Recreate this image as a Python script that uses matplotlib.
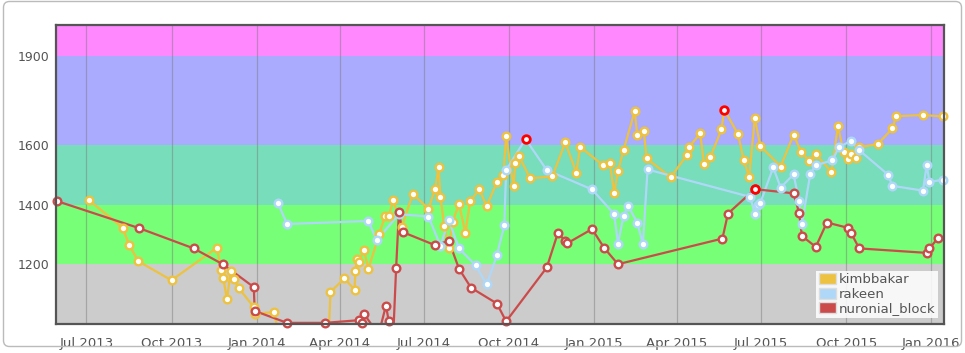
import numpy as np
import pandas as pd
import matplotlib
matplotlib.use("Agg")
import matplotlib.pyplot as plt
import matplotlib.dates as mdates
from matplotlib.patches import Patch, FancyBboxPatch
from matplotlib.transforms import IdentityTransform

# rating history
kimbbakar_dates = [
    '2013-07-04', '2013-08-09', '2013-08-16', '2013-08-26', '2013-10-01', '2013-11-19',
    '2013-11-24', '2013-11-26', '2013-11-30', '2013-12-04', '2013-12-08', '2013-12-13',
    '2013-12-29', '2013-12-30', '2014-01-20', '2014-01-26', '2014-03-20', '2014-03-22',
    '2014-04-06', '2014-04-17', '2014-04-18', '2014-04-20', '2014-04-22', '2014-04-27',
    '2014-05-02', '2014-05-14', '2014-05-20', '2014-05-24', '2014-05-29', '2014-06-07',
    '2014-06-19', '2014-07-06', '2014-07-13', '2014-07-17', '2014-07-19', '2014-07-23',
    '2014-07-28', '2014-08-01', '2014-08-08', '2014-08-15', '2014-08-20', '2014-08-30',
    '2014-09-07', '2014-09-18', '2014-09-25', '2014-09-28', '2014-10-06', '2014-10-08',
    '2014-10-12', '2014-10-24', '2014-11-17', '2014-12-01', '2014-12-13', '2014-12-17',
    '2015-01-11', '2015-01-18', '2015-01-23', '2015-01-27', '2015-02-02', '2015-02-14',
    '2015-02-17', '2015-02-24', '2015-02-27', '2015-03-25', '2015-04-12', '2015-04-14',
    '2015-04-26', '2015-04-30', '2015-05-07', '2015-05-19', '2015-05-22', '2015-06-06',
    '2015-06-12', '2015-06-18', '2015-06-24', '2015-06-30', '2015-07-22', '2015-08-05',
    '2015-08-13', '2015-08-22', '2015-08-29', '2015-09-15', '2015-09-22', '2015-09-28',
    '2015-10-03', '2015-10-06', '2015-10-11', '2015-10-15', '2015-11-04', '2015-11-20',
    '2015-11-24', '2015-12-23', '2016-01-14',
]
kimbbakar_rating = [
    1415, 1324, 1267, 1211, 1147, 1256,
    1181, 1153, 1084, 1177, 1151, 1120,
    1057, 1035, 1040, 950, 960, 1108,
    1153, 1116, 1177, 1219, 1208, 1250,
    1186, 1304, 1363, 1363, 1416, 1325,
    1437, 1387, 1452, 1526, 1427, 1330,
    1254, 1343, 1403, 1306, 1412, 1452,
    1396, 1477, 1500, 1631, 1463, 1541,
    1564, 1489, 1496, 1610, 1508, 1595,
    1533, 1542, 1441, 1514, 1584, 1714,
    1634, 1648, 1556, 1493, 1569, 1595,
    1640, 1539, 1561, 1654, 1720, 1637,
    1550, 1495, 1691, 1598, 1529, 1636,
    1578, 1548, 1570, 1511, 1665, 1577,
    1555, 1570, 1559, 1594, 1604, 1657,
    1698, 1702, 1697,
]

rakeen_dates = [
    '2014-01-24', '2014-02-03', '2014-05-02', '2014-05-11', '2014-06-04', '2014-07-06',
    '2014-07-19', '2014-07-28', '2014-08-08', '2014-08-26', '2014-09-07', '2014-09-18',
    '2014-09-26', '2014-09-28', '2014-10-19', '2014-11-11', '2014-12-30', '2015-01-23',
    '2015-01-27', '2015-02-02', '2015-02-07', '2015-02-17', '2015-02-23', '2015-02-28',
    '2015-06-19', '2015-06-24', '2015-06-27', '2015-06-30', '2015-07-14', '2015-07-22',
    '2015-08-05', '2015-08-11', '2015-08-14', '2015-08-23', '2015-08-29', '2015-09-16',
    '2015-09-23', '2015-10-06', '2015-10-15', '2015-11-15', '2015-11-20', '2015-12-23',
    '2015-12-27', '2015-12-30', '2016-01-14',
]
rakeen_rating = [
    1407, 1336, 1346, 1281, 1369, 1361,
    1263, 1349, 1254, 1197, 1133, 1231,
    1331, 1517, 1621, 1517, 1452, 1369,
    1270, 1362, 1397, 1340, 1268, 1519,
    1427, 1371, 1399, 1407, 1526, 1458,
    1503, 1412, 1335, 1504, 1533, 1550,
    1594, 1615, 1584, 1502, 1464, 1448,
    1534, 1477, 1485,
]

nuronial_dates = [
    '2013-05-30', '2013-08-27', '2013-10-25', '2013-11-26', '2013-12-29', '2013-12-30',
    '2014-02-03', '2014-03-16', '2014-04-22', '2014-04-25', '2014-04-27', '2014-05-13',
    '2014-05-21', '2014-05-24', '2014-05-29', '2014-06-01', '2014-06-04', '2014-06-08',
    '2014-07-13', '2014-07-28', '2014-08-08', '2014-08-21', '2014-09-18', '2014-09-28',
    '2014-11-11', '2014-11-23', '2014-12-01', '2014-12-03', '2014-12-30', '2015-01-12',
    '2015-01-27', '2015-05-20', '2015-05-26', '2015-06-24', '2015-08-05', '2015-08-11',
    '2015-08-14', '2015-08-29', '2015-09-10', '2015-10-03', '2015-10-06', '2015-10-15',
    '2015-12-27', '2015-12-30', '2016-01-08',
]
nuronial_rating = [
    1413, 1322, 1254, 1200, 1124, 1044,
    1004, 1004, 1013, 1004, 1035, 965,
    1062, 1010, 970, 1188, 1376, 1309,
    1265, 1279, 1186, 1122, 1069, 1009,
    1190, 1306, 1279, 1271, 1319, 1256,
    1201, 1287, 1371, 1453, 1439, 1373,
    1296, 1259, 1341, 1323, 1307, 1254,
    1239, 1254, 1288,
]

series = [
    ('kimbbakar', kimbbakar_dates, kimbbakar_rating, '#edc240'),
    ('rakeen', rakeen_dates, rakeen_rating, '#afd8f8'),
    ('nuronial_block', nuronial_dates, nuronial_rating, '#cb4b4b'),
]

# rating colour bands
band_edges = [0, 1200, 1400, 1600, 1900, 2200]
band_colors = ['#cccccc', '#77ff77', '#77ddbb', '#aaaaff', '#ff88ff']

y_min, y_max = 1000, 2004
text_color = '#545454'

fig = plt.figure(figsize=(9.65, 3.53), dpi=100)
ax = fig.add_axes([0.058, 0.082, 0.9205, 0.847])

for lo, hi, c in zip(band_edges[:-1], band_edges[1:], band_colors):
    ax.axhspan(lo, hi, color=c, zorder=0.2, lw=0)

handles = []
for name, dates, rating, color in series:
    d = pd.to_datetime(dates)
    r = np.array(rating)
    ax.plot(d, r, color=color, lw=1.6, zorder=3)
    vis = r >= y_min
    ax.plot(d[vis], r[vis], ls='none', marker='o', ms=5.5, mfc='white',
            mec=color, mew=1.7, zorder=4, clip_on=False)
    i = int(np.argmax(r))
    ax.plot(d[i], r[i], ls='none', marker='o', ms=5.5, mfc='white',
            mec='#ff0000', mew=2.0, zorder=5, clip_on=False)
    handles.append(Patch(facecolor=color, edgecolor='#dddddd', label=name))

ax.set_ylim(y_min, y_max)
ax.set_xlim(pd.Timestamp('2013-05-29'), pd.Timestamp('2016-01-15'))
ax.set_yticks([1200, 1400, 1600, 1900])
ax.xaxis.set_major_locator(mdates.MonthLocator(bymonth=[1, 4, 7, 10]))
ax.xaxis.set_major_formatter(mdates.DateFormatter('%b %Y'))
ax.tick_params(length=0, labelsize=9.5, colors=text_color)
ax.tick_params(axis='y', pad=5, labelsize=9)
ax.tick_params(axis='x', pad=9)
ax.set_axisbelow(True)
ax.grid(axis='x', color='#777777', alpha=0.45, lw=0.9)
for s in ax.spines.values():
    s.set_color('#555555')
    s.set_linewidth(1.6)
    s.set_zorder(6)

leg = ax.legend(handles=handles, loc='lower right', fontsize=9.5,
                handlelength=1.3, handleheight=0.9, handletextpad=0.25,
                labelspacing=0.12, borderpad=0.2, borderaxespad=0.45,
                framealpha=0.85, fancybox=False, edgecolor='none')
for t in leg.get_texts():
    t.set_color(text_color)
leg.set_zorder(7)

# light rounded frame around the whole chart
frame = FancyBboxPatch((3.5, 6.5), 958, 345, boxstyle='round,pad=0,rounding_size=6',
                       transform=IdentityTransform(), fill=False,
                       edgecolor='#bbbbbb', lw=1)
fig.add_artist(frame)

fig.savefig('out.png', dpi=100)
